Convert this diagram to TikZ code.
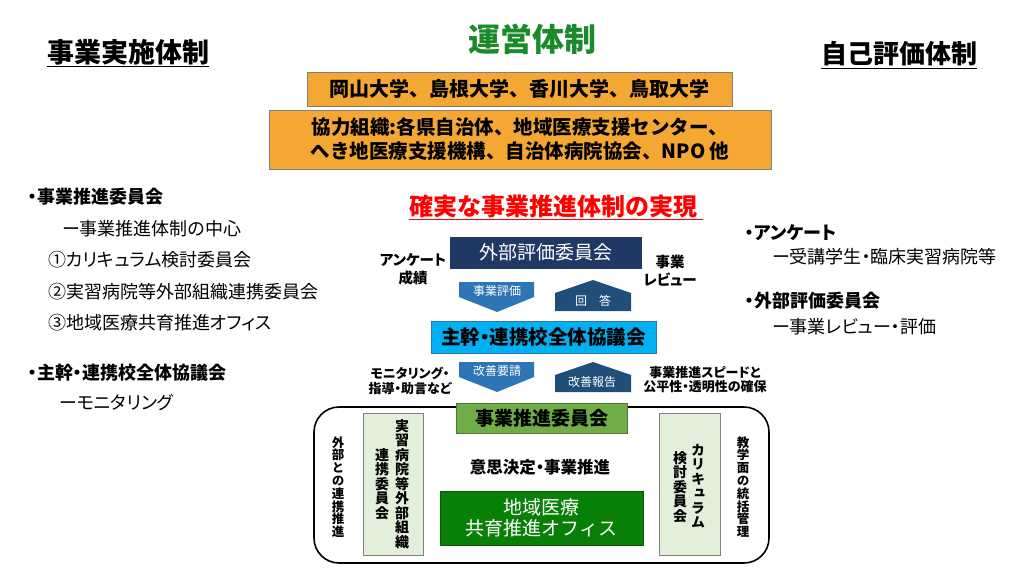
\documentclass[tikz,border=0pt]{standalone}
\usepackage{fontspec}
\setmainfont{Noto Sans CJK JP}
\newfontfamily\pj[RawFeature=+palt]{Noto Sans CJK JP}
\newfontfamily\vj[RawFeature=+vert]{Noto Sans CJK JP}
\newcommand\fsz[2]{\fontsize{#1}{#2}\selectfont}
\definecolor{ttlgreen}{HTML}{1A8A2A}
\definecolor{orng}{HTML}{F5A733}
\definecolor{navy}{HTML}{203864}
\definecolor{midblue}{HTML}{2E75B6}
\definecolor{darkblue}{HTML}{1F4E79}
\definecolor{cyanbox}{HTML}{00B0F0}
\definecolor{leaf}{HTML}{70AD47}
\definecolor{pale}{HTML}{E2EFDA}
\definecolor{office}{HTML}{088008}
\tikzstyle{bx}=[draw,inner sep=0pt,align=center]
\tikzstyle{lbl}=[inner sep=0pt,align=center]
\tikzstyle{lst}=[anchor=west,inner sep=0pt]
\tikzstyle{vt}=[inner sep=0pt,align=center]

\begin{document}
\begin{tikzpicture}[x=1pt,y=-1pt]
\useasboundingbox[fill=white] (0,0) rectangle (1024,576);
% headings
\node[lbl,text=ttlgreen,font={\fsz{32}{36}\bfseries}] (title) at (532,39) {運営体制};
\node[lbl,font={\fsz{27}{30}\bfseries}] (plan) at (128,53) {\underline{事業実施体制}};
\node[lbl,font={\fsz{26}{30}\bfseries}] (selfeval) at (899,55) {\underline{自己評価体制}};
% universities
\node[bx,fill=orng,draw=gray,minimum width=425pt,minimum height=34pt,font={\fsz{20}{24}\bfseries}] (univ) at (519.5,89) {岡山大学、島根大学、香川大学、鳥取大学};
\node[bx,fill=orng,draw=gray,minimum width=502pt,minimum height=59pt,font={\fsz{19.5}{24}\bfseries}] (coop) at (520,139.5) {協力組織:各県自治体、地域医療支援センター、\\へき地医療支援機構、自治体病院協会、NPO 他};
\node[lbl,text=red,font={\fsz{24}{28}\bfseries}] (goal) at (556,207) {\underline{確実な事業推進体制の実現\ }};
% left list
\node[lst,font={\fsz{18}{20}\bfseries\pj}] (l1) at (28,197) {・事業推進委員会};
\node[lst,font={\fsz{18}{20}\pj}] (l2) at (62,229) {ー事業推進体制の中心};
\node[lst,font={\fsz{18}{20}\pj}] (l3) at (48,260) {①カリキュラム検討委員会};
\node[lst,font={\fsz{18}{20}\pj}] (l4) at (48,292) {②実習病院等外部組織連携委員会};
\node[lst,font={\fsz{18}{20}\pj}] (l5) at (48,323) {③地域医療共育推進オフィス};
\node[lst,font={\fsz{18}{20}\bfseries\pj}] (l6) at (28,373) {・主幹・連携校全体協議会};
\node[lst,font={\fsz{18}{20}\pj}] (l7) at (59,403) {ーモニタリング};
% right list
\node[lst,font={\fsz{18}{20}\bfseries\pj}] (r1) at (745,233) {・アンケート};
\node[lst,font={\fsz{18}{20}\pj}] (r2) at (772,257) {ー受講学生・臨床実習病院等};
\node[lst,font={\fsz{18}{20}\bfseries\pj}] (r3) at (745,301) {・外部評価委員会};
\node[lst,font={\fsz{18}{20}\pj}] (r4) at (772,327) {ー事業レビュー・評価};
% evaluation committee and council
\node[bx,fill=navy,draw=navy,text=white,minimum width=191pt,minimum height=31pt,font={\fsz{19}{22}}] (extern) at (545.5,252.5) {外部評価委員会};
\node[lbl,font={\fsz{14.5}{18}\bfseries\pj}] (survey) at (413,269) {アンケート\\成績};
\node[lbl,font={\fsz{14.5}{18}\bfseries\pj}] (review) at (670,271) {事業\\レビュー};
\fill[midblue] (459,282) -- (534,282) -- (534,297) -- (497,312) -- (459,297) -- cycle;
\fill[darkblue] (593,280) -- (631,293) -- (631,311) -- (555,311) -- (555,293) -- cycle;
\node[lbl,text=white,font={\fsz{12}{14}}] (assess) at (497,291) {事業評価};
\node[lbl,text=white,font={\fsz{12}{14}}] (answer) at (593,301) {回　答};
\node[bx,fill=cyanbox,draw=midblue,minimum width=225pt,minimum height=32pt,font={\fsz{19.5}{22}\bfseries\pj}] (council) at (543.5,337) {主幹・連携校全体協議会};
\node[lbl,font={\fsz{13}{15}\bfseries\pj}] (monitor) at (410,380.5) {モニタリング・\\指導・助言など};
\node[lbl,font={\fsz{13}{14}\bfseries\pj}] (speed) at (705,380) {事業推進スピードと\\公平性・透明性の確保};
\fill[midblue] (459,362) -- (534,362) -- (534,377) -- (497,392) -- (459,377) -- cycle;
\fill[darkblue] (593,362) -- (631,375) -- (631,392) -- (555,392) -- (555,375) -- cycle;
\node[lbl,text=white,font={\fsz{12}{14}}] (request) at (497,371) {改善要請};
\node[lbl,text=white,font={\fsz{12}{14}}] (report) at (592,382) {改善報告};
% promotion committee frame
\node[draw,line width=1.6pt,rounded corners=25pt,minimum width=455pt,minimum height=156pt] (frame) at (541.5,485) {};
\node[bx,fill=leaf,draw=leaf!70!black,minimum width=171pt,minimum height=30pt,font={\fsz{19}{22}\bfseries}] (promo) at (541.5,418) {事業推進委員会};
\node[lbl,font={\fsz{16.5}{20}\bfseries\pj}] (decide) at (540,467) {意思決定・事業推進};
\node[bx,fill=office,draw=office!70!black,text=white,minimum width=203pt,minimum height=54pt,font={\fsz{19}{21.5}}] (officebox) at (541.5,518) {地域医療\\共育推進オフィス};
\node[bx,fill=pale,draw=gray,minimum width=60pt,minimum height=142pt] (hosp) at (393,484) {};
\node[bx,fill=pale,draw=gray,minimum width=61pt,minimum height=142pt] (curr) at (689.5,484) {};
\node[vt,font={\fsz{14}{14.5}\bfseries\vj}] (hospA) at (402,484) {実\\習\\病\\院\\等\\外\\部\\組\\織};
\node[vt,font={\fsz{14}{14.5}\bfseries\vj}] (hospB) at (382,484) {連\\携\\委\\員\\会};
\node[vt,font={\fsz{14}{14.5}\bfseries\vj}] (currA) at (698,486) {カ\\リ\\キ\\ュ\\ラ\\ム};
\node[vt,font={\fsz{14}{14.5}\bfseries\vj}] (currB) at (680,487) {検\\討\\委\\員\\会};
\node[vt,font={\fsz{12.5}{12.8}\bfseries\vj}] (liaison) at (338,487) {外\\部\\と\\の\\連\\携\\推\\進};
\node[vt,font={\fsz{12.5}{12.8}\bfseries\vj}] (mgmt) at (743,487) {教\\学\\面\\の\\統\\括\\管\\理};
\end{tikzpicture}
\end{document}
